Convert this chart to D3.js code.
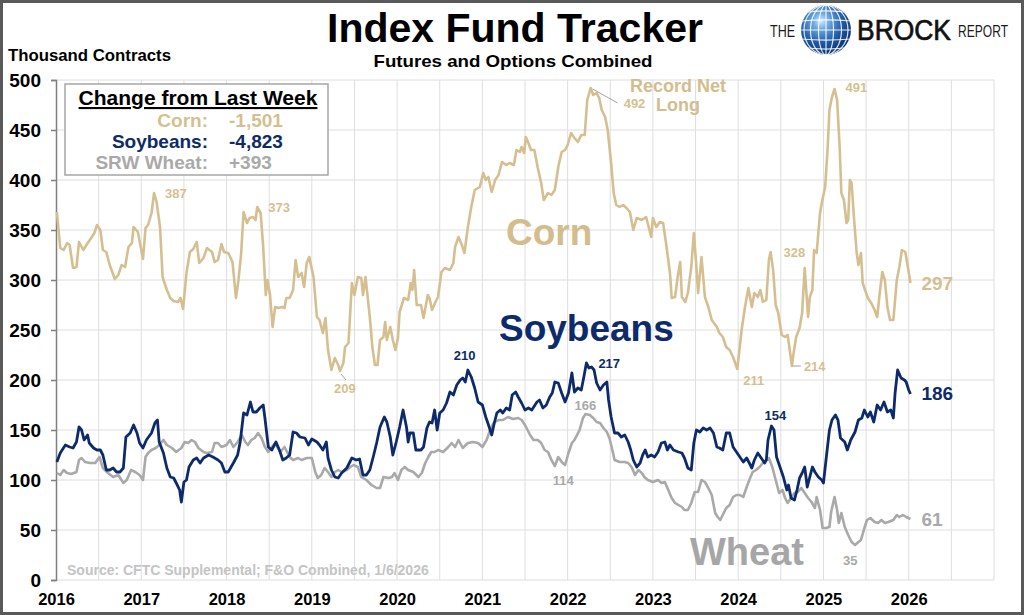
<!DOCTYPE html>
<html>
<head>
<meta charset="utf-8">
<script src="https://cdn.jsdelivr.net/npm/d3@7"></script>
<style>
html, body { margin: 0; padding: 0; background: #fff; }
svg { display: block; font-family: "Liberation Sans", Arial, Helvetica, sans-serif; }
</style>
</head>
<body>
<div id="chart"></div>
<script>
// index_fund_tracker - weekly net index fund positions (thousand contracts)

const yTicks = [0, 50, 100, 150, 200, 250, 300, 350, 400, 450, 500];
const xTickYears = [2016, 2017, 2018, 2019, 2020, 2021, 2022, 2023, 2024, 2025, 2026];

const legendNames = ["Corn:", "Soybeans:", "SRW Wheat:"];
const legendChanges = ["-1,501", "-4,823", "+393"];

const cornDates = [
  2016.01,2016.05,2016.09,2016.13,2016.16,2016.20,2016.24,2016.27,2016.32,2016.38,2016.42,2016.45,2016.48,2016.52,2016.55,2016.59,2016.63,2016.69,2016.73,2016.77,2016.81,2016.85,2016.89,2016.91,2016.96,
  2017.02,2017.05,2017.08,2017.12,2017.15,2017.18,2017.22,2017.25,2017.30,2017.34,2017.38,2017.43,2017.46,2017.49,2017.53,2017.57,2017.61,2017.65,2017.68,2017.73,2017.77,2017.83,2017.86,2017.90,2017.94,2017.97,
  2018.02,2018.07,2018.11,2018.14,2018.17,2018.20,2018.24,2018.27,2018.31,2018.34,2018.36,2018.40,2018.43,2018.46,2018.48,2018.51,2018.54,2018.57,2018.61,2018.65,2018.68,2018.70,2018.74,2018.78,2018.81,2018.84,2018.88,2018.91,2018.94,2018.97,
  2019.02,2019.06,2019.09,2019.13,2019.16,2019.19,2019.23,2019.27,2019.31,2019.33,2019.37,2019.39,2019.43,2019.47,2019.50,2019.54,2019.58,2019.60,2019.63,2019.68,2019.71,2019.74,2019.77,2019.80,2019.84,2019.86,2019.88,2019.92,2019.95,2019.98,
  2020.01,2020.03,2020.08,2020.13,2020.16,2020.18,2020.20,2020.23,2020.28,2020.31,2020.36,2020.38,2020.41,2020.45,2020.48,2020.52,2020.56,2020.62,2020.66,2020.68,2020.72,2020.76,2020.79,2020.83,2020.87,2020.91,2020.97,
  2021.01,2021.04,2021.07,2021.11,2021.15,2021.19,2021.23,2021.28,2021.32,2021.37,2021.40,2021.44,2021.46,2021.49,2021.51,2021.54,2021.57,2021.61,2021.65,2021.69,2021.72,2021.77,2021.81,2021.85,2021.89,2021.93,2021.97,
  2022.00,2022.04,2022.08,2022.12,2022.16,2022.20,2022.23,2022.27,2022.30,2022.34,2022.37,2022.40,2022.44,2022.47,2022.51,2022.54,2022.57,2022.61,2022.65,2022.69,2022.73,2022.77,2022.81,2022.87,2022.92,2022.98,
  2023.00,2023.04,2023.08,2023.12,2023.16,2023.20,2023.22,2023.26,2023.29,2023.32,2023.34,2023.38,2023.41,2023.45,2023.48,2023.51,2023.53,2023.57,2023.61,2023.65,2023.69,2023.75,2023.78,2023.82,2023.86,2023.90,2023.94,2023.99,
  2024.04,2024.08,2024.12,2024.16,2024.19,2024.23,2024.26,2024.29,2024.33,2024.36,2024.38,2024.41,2024.44,2024.47,2024.51,2024.55,2024.58,2024.60,2024.63,2024.65,2024.68,2024.72,2024.75,2024.78,2024.82,2024.84,2024.87,2024.89,2024.92,2024.96,2024.98,
  2025.02,2025.05,2025.07,2025.10,2025.13,2025.16,2025.19,2025.21,2025.24,2025.27,2025.29,2025.31,2025.33,2025.36,2025.39,2025.41,2025.44,2025.46,2025.50,2025.52,2025.56,2025.60,2025.63,2025.66,2025.69,2025.72,2025.75,2025.78,2025.82,2025.86,2025.89,2025.92,2025.96,2025.99,2026.02
];
const cornValues = [
  368,332,330,337,335,312,313,338,330,338,343,347,355,350,330,328,315,301,305,315,313,333,337,353,348,
  321,352,355,367,387,378,353,303,290,282,279,278,282,271,307,328,331,338,317,322,332,328,318,320,336,328,
  327,318,282,300,325,368,357,362,363,360,373,367,333,285,300,285,253,273,272,273,272,282,282,290,320,303,307,293,317,323,
  303,263,260,247,262,230,210,222,215,209,217,233,237,297,285,303,302,285,303,263,233,215,215,240,243,258,240,253,240,230,
  242,268,282,280,297,290,310,275,275,262,285,282,270,278,283,308,312,310,317,333,343,335,327,353,373,390,393,
  407,400,403,388,400,405,418,415,417,415,430,428,433,427,443,437,430,430,412,397,380,387,385,390,413,428,430,
  435,447,442,438,445,445,480,492,485,487,482,470,463,450,417,387,375,373,375,372,368,350,362,360,363,343,
  362,353,358,357,333,307,282,283,303,318,283,278,287,313,347,313,287,323,283,273,260,253,247,243,233,230,223,211,
  250,273,292,273,287,283,290,278,280,320,328,310,275,267,245,243,245,233,214,227,243,252,267,312,263,283,290,330,327,367,377,
  393,433,470,483,491,480,433,387,380,357,360,400,397,360,327,315,327,297,287,282,277,270,263,287,308,300,273,260,260,300,313,330,328,313,297
];

const soyDates = [
  2016.01,2016.05,2016.11,2016.16,2016.20,2016.24,2016.27,2016.30,2016.33,2016.37,2016.39,2016.44,2016.48,2016.52,2016.55,2016.59,2016.63,2016.67,2016.71,2016.75,2016.79,2016.82,2016.87,2016.91,2016.95,2016.98,
  2017.02,2017.06,2017.12,2017.16,2017.19,2017.21,2017.26,2017.30,2017.34,2017.38,2017.41,2017.45,2017.47,2017.50,2017.53,2017.56,2017.61,2017.65,2017.69,2017.73,2017.79,2017.84,2017.90,2017.94,2017.98,
  2018.02,2018.08,2018.13,2018.16,2018.20,2018.24,2018.28,2018.31,2018.35,2018.39,2018.43,2018.45,2018.49,2018.53,2018.58,2018.62,2018.66,2018.70,2018.74,2018.78,2018.82,2018.86,2018.92,2018.96,
  2019.00,2019.06,2019.09,2019.13,2019.17,2019.19,2019.23,2019.27,2019.31,2019.35,2019.41,2019.47,2019.52,2019.56,2019.60,2019.64,2019.68,2019.72,2019.76,2019.80,2019.85,2019.88,2019.92,2019.95,2019.99,
  2020.03,2020.07,2020.11,2020.13,2020.15,2020.19,2020.22,2020.28,2020.31,2020.35,2020.38,2020.41,2020.44,2020.47,2020.50,2020.54,2020.58,2020.62,2020.66,2020.70,2020.74,2020.77,2020.80,2020.83,2020.87,2020.91,2020.95,
  2021.00,2021.04,2021.08,2021.11,2021.14,2021.17,2021.21,2021.24,2021.28,2021.32,2021.35,2021.39,2021.42,2021.46,2021.50,2021.54,2021.58,2021.64,2021.67,2021.71,2021.75,2021.79,2021.82,2021.85,2021.89,2021.93,2021.97,
  2022.01,2022.03,2022.05,2022.08,2022.12,2022.16,2022.19,2022.22,2022.25,2022.28,2022.31,2022.34,2022.38,2022.42,2022.46,2022.48,2022.51,2022.55,2022.59,2022.63,2022.67,2022.71,2022.74,2022.77,2022.81,2022.85,2022.88,2022.91,2022.94,2022.98,
  2023.02,2023.06,2023.10,2023.14,2023.17,2023.20,2023.24,2023.30,2023.34,2023.37,2023.41,2023.45,2023.48,2023.51,2023.55,2023.59,2023.63,2023.67,2023.71,2023.75,2023.78,2023.82,2023.86,2023.90,2023.94,2023.98,
  2024.02,2024.06,2024.10,2024.16,2024.19,2024.23,2024.27,2024.31,2024.33,2024.35,2024.39,2024.42,2024.45,2024.49,2024.53,2024.57,2024.59,2024.62,2024.66,2024.69,2024.72,2024.75,2024.78,2024.81,2024.84,2024.87,2024.90,2024.94,2024.98,
  2025.00,2025.03,2025.07,2025.10,2025.14,2025.17,2025.20,2025.25,2025.28,2025.32,2025.37,2025.41,2025.45,2025.48,2025.52,2025.55,2025.59,2025.63,2025.67,2025.71,2025.75,2025.79,2025.82,2025.84,2025.87,2025.91,2025.95,2025.97,2026.00,2026.02
];
const soyValues = [
  118,127,135,133,132,138,153,150,140,145,137,132,130,130,125,110,110,112,108,108,112,143,147,155,147,137,
  132,140,147,157,160,138,127,112,103,102,97,90,78,98,100,113,120,122,117,122,125,123,120,117,108,
  108,117,125,138,167,165,178,168,168,172,175,162,133,130,138,130,120,122,125,148,147,143,142,135,
  141,138,135,130,138,122,110,103,102,107,112,122,120,121,105,105,110,123,137,153,163,158,143,125,138,
  153,170,153,138,147,147,130,130,133,152,158,157,170,150,167,170,177,188,185,195,200,202,198,210,203,192,178,
  175,163,153,145,157,167,170,167,172,170,185,188,183,177,170,172,170,178,180,172,175,183,187,198,197,187,178,
  187,197,207,188,192,190,203,217,212,213,210,197,190,195,198,180,163,147,147,143,145,138,130,120,113,117,125,130,123,125,
  123,128,137,138,130,135,130,128,127,122,112,110,137,150,148,152,150,152,147,133,132,130,147,147,133,128,
  123,118,122,112,120,127,122,117,120,140,154,150,123,113,103,90,95,82,80,90,102,107,113,93,103,113,108,103,100,
  97,120,150,160,165,160,142,138,130,140,148,160,162,170,163,168,158,175,170,178,168,170,162,187,210,202,200,198,190,186
];

const wheatDates = [
  2016.01,2016.05,2016.09,2016.13,2016.18,2016.24,2016.27,2016.30,2016.34,2016.40,2016.46,2016.51,2016.55,2016.61,2016.67,2016.73,2016.79,2016.83,2016.88,2016.93,2016.98,
  2017.02,2017.05,2017.08,2017.12,2017.17,2017.21,2017.26,2017.30,2017.36,2017.41,2017.47,2017.51,2017.55,2017.59,2017.63,2017.67,2017.73,2017.77,2017.83,2017.86,2017.90,2017.94,
  2018.00,2018.04,2018.08,2018.13,2018.18,2018.22,2018.25,2018.29,2018.33,2018.37,2018.41,2018.45,2018.49,2018.53,2018.57,2018.63,2018.68,2018.74,2018.78,2018.84,2018.88,2018.94,
  2019.00,2019.04,2019.07,2019.11,2019.15,2019.19,2019.23,2019.27,2019.31,2019.35,2019.41,2019.45,2019.49,2019.54,2019.58,2019.64,2019.70,2019.76,2019.80,2019.84,2019.90,2019.94,2019.97,
  2020.01,2020.05,2020.09,2020.13,2020.19,2020.25,2020.29,2020.33,2020.36,2020.40,2020.44,2020.48,2020.54,2020.60,2020.64,2020.68,2020.72,2020.77,2020.83,2020.89,2020.95,
  2021.00,2021.05,2021.09,2021.13,2021.19,2021.24,2021.30,2021.36,2021.42,2021.46,2021.50,2021.56,2021.60,2021.65,2021.69,2021.73,2021.77,2021.81,2021.85,2021.89,2021.93,2021.97,
  2022.01,2022.05,2022.08,2022.11,2022.14,2022.18,2022.21,2022.26,2022.30,2022.34,2022.38,2022.42,2022.46,2022.49,2022.53,2022.55,2022.61,2022.67,2022.71,2022.75,2022.79,2022.83,2022.87,2022.90,2022.94,
  2023.00,2023.06,2023.10,2023.14,2023.18,2023.22,2023.26,2023.30,2023.34,2023.37,2023.41,2023.45,2023.49,2023.53,2023.57,2023.61,2023.65,2023.69,2023.73,2023.76,2023.79,2023.83,2023.86,2023.90,2023.94,2023.98,
  2024.02,2024.06,2024.10,2024.14,2024.17,2024.21,2024.25,2024.29,2024.33,2024.36,2024.40,2024.44,2024.48,2024.52,2024.55,2024.58,2024.62,2024.66,2024.70,2024.74,2024.78,2024.82,2024.86,2024.90,2024.92,2024.96,2024.99,
  2025.03,2025.07,2025.09,2025.13,2025.16,2025.18,2025.21,2025.25,2025.29,2025.33,2025.37,2025.41,2025.44,2025.48,2025.51,2025.55,2025.60,2025.64,2025.68,2025.72,2025.76,2025.82,2025.86,2025.89,2025.93,2025.97,2026.02
];
const wheatValues = [
  107,105,110,107,106,108,120,122,118,117,117,123,112,107,103,105,97,100,110,108,105,
  100,123,127,130,132,135,140,135,132,128,132,138,137,140,138,132,128,127,128,137,137,133,
  135,140,133,138,145,138,135,140,142,147,142,133,128,133,137,128,133,123,120,122,120,122,
  122,108,102,105,112,108,103,108,110,108,110,113,115,113,103,100,95,92,92,103,102,103,107,
  100,110,113,110,108,103,107,117,122,128,128,130,128,133,137,133,140,132,137,138,137,
  133,140,150,157,160,160,163,161,162,160,155,145,140,140,137,130,128,120,114,123,118,115,
  127,137,140,145,150,162,166,165,162,158,157,152,148,142,128,120,118,118,117,113,105,110,107,103,100,
  98,100,97,98,90,82,77,75,73,70,70,77,88,88,100,98,92,85,67,63,60,67,72,75,83,85,
  85,83,93,102,108,110,113,117,120,122,113,100,87,90,82,77,82,87,88,92,87,82,78,72,83,70,52,
  52,53,68,83,70,57,67,53,45,38,35,38,40,52,60,62,58,57,60,57,58,60,65,63,65,63,61
];

// points that carry a value label: [date, value]
const cornPeaks = [[2017.15, 387], [2018.36, 373], [2019.33, 209], [2022.27, 492], [2023.99, 211], [2024.38, 328], [2024.63, 214], [2025.13, 491]];
const soyPeaks = [[2020.83, 210], [2022.22, 217], [2024.39, 154]];
const wheatPeaks = [[2022.21, 166], [2021.85, 114], [2025.37, 35]];

function drawTracker() {
    const width = 1024, height = 615;
    const cornColor = "#D5BF90", soyColor = "#0D2B6B", wheatColor = "#A9A9A9";

    const svg = d3.select("#chart").append("svg")
        .attr("width", width).attr("height", height)
        .attr("viewBox", `0 0 ${width} ${height}`);

    svg.append("rect").attr("x", 1.5).attr("y", 1.5).attr("width", width - 3).attr("height", height - 3)
        .attr("fill", "#fff").attr("stroke", "#595959").attr("stroke-width", 3);

    const x = d3.scaleLinear().domain([2016, 2027]).range([56, 994]);
    const y = d3.scaleLinear().domain([0, 500]).range([580, 80]);

    // grid
    const grid = svg.append("g").attr("stroke", "#DEDEDE").attr("stroke-width", 1);
    grid.selectAll(".vg").data(d3.range(2016.5, 2027.01, 0.5)).join("line").attr("class", "vg")
        .attr("x1", d => x(d)).attr("x2", d => x(d)).attr("y1", y(0)).attr("y2", y(500));
    grid.selectAll(".hg").data(yTicks).join("line").attr("class", "hg")
        .attr("x1", x(2016)).attr("x2", x(2027)).attr("y1", d => y(d)).attr("y2", d => y(d));

    // axes
    svg.append("g").attr("transform", `translate(${x(2016)},0)`)
        .call(d3.axisLeft(y).tickValues(yTicks).tickSize(5).tickPadding(10))
        .call(g => g.select(".domain").attr("stroke", "#7F7F7F").attr("stroke-width", 1.5))
        .call(g => g.selectAll(".tick line").attr("stroke", "#7F7F7F").attr("stroke-width", 1.5))
        .call(g => g.selectAll("text").attr("fill", "#000").style("font-size", "19px").style("font-weight", "bold")
            .style("font-family", "'Liberation Sans', Arial, sans-serif"));

    svg.append("g").attr("transform", `translate(0,${y(0)})`)
        .call(d3.axisBottom(x).tickValues(xTickYears).tickSize(0).tickPadding(13).tickFormat(d3.format("d")))
        .call(g => g.select(".domain").remove())
        .call(g => g.selectAll("text").attr("fill", "#000").style("font-size", "16.5px").style("font-weight", "bold")
            .style("font-family", "'Liberation Sans', Arial, sans-serif"));

    // series
    const line = d3.line().x(d => x(d[0])).y(d => y(d[1])).curve(d3.curveLinear);
    const series = [
        { dates: wheatDates, values: wheatValues, color: wheatColor, w: 2.6 },
        { dates: cornDates, values: cornValues, color: cornColor, w: 2.6 },
        { dates: soyDates, values: soyValues, color: soyColor, w: 2.8 }
    ];
    series.forEach(s => {
        svg.append("path").datum(d3.zip(s.dates, s.values))
            .attr("d", line).attr("fill", "none").attr("stroke", s.color)
            .attr("stroke-width", s.w).attr("stroke-linejoin", "round");
    });

    // value labels, offsets in px from the labelled point
    const cornOffsets = [[11, 5], [11, 5], [-6, 22], [33, 20], [6, 16], [13, 5], [12, 5], [11, 3]];
    const soyOffsets = [[-14, -10], [12, 5], [-7, -6]];
    const wheatOffsets = [[-11, -4], [-2, 19], [-12, 20]];
    const labelGroup = svg.append("g").style("font-size", "13px").style("font-weight", "bold");
    [[cornPeaks, cornOffsets, cornColor], [soyPeaks, soyOffsets, soyColor], [wheatPeaks, wheatOffsets, wheatColor]]
        .forEach(([pts, offs, color]) => {
            labelGroup.selectAll(null).data(pts).join("text")
                .attr("x", (d, i) => x(d[0]) + offs[i][0])
                .attr("y", (d, i) => y(d[1]) + offs[i][1])
                .attr("fill", color).text(d => d[1]);
        });

    // leader lines
    const p492 = cornPeaks[3], p209 = cornPeaks[2], p214 = cornPeaks[6];
    svg.append("line").attr("x1", x(p492[0]) + 2).attr("y1", y(p492[1]) + 1)
        .attr("x2", x(p492[0]) + 27).attr("y2", y(p492[1]) + 15).attr("stroke", "#8C8C8C").attr("stroke-width", 0.8);
    svg.append("line").attr("x1", x(p209[0]) + 1).attr("y1", y(p209[1]) + 3)
        .attr("x2", x(p209[0]) + 6).attr("y2", y(p209[1]) + 9).attr("stroke", "#8C8C8C").attr("stroke-width", 0.8);
    svg.append("line").attr("x1", x(p214[0]) + 1).attr("y1", y(p214[1]))
        .attr("x2", x(p214[0]) + 9).attr("y2", y(p214[1])).attr("stroke", "#8C8C8C").attr("stroke-width", 0.8);

    // end values
    const endGroup = svg.append("g").style("font-size", "19px").style("font-weight", "bold");
    [[cornDates, cornValues, cornColor, 7], [soyDates, soyValues, soyColor, 6], [wheatDates, wheatValues, wheatColor, 7]]
        .forEach(([dates, vals, color, dy]) => {
            const n = vals.length - 1;
            endGroup.append("text").attr("x", x(dates[n]) + 11).attr("y", y(vals[n]) + dy)
                .attr("fill", color).text(vals[n]);
        });

    // series names
    const nameGroup = svg.append("g").style("font-weight", "bold");
    nameGroup.append("text").attr("x", 506).attr("y", 245).attr("fill", "#D3BD8C").style("font-size", "37px").text("Corn");
    nameGroup.append("text").attr("x", 499).attr("y", 341).attr("fill", soyColor).style("font-size", "37px").text("Soybeans");
    nameGroup.append("text").attr("x", 690).attr("y", 565).attr("fill", "#A6A6A6").style("font-size", "38px").text("Wheat");
    nameGroup.append("text").attr("x", 678).attr("y", 92).attr("text-anchor", "middle").attr("fill", "#D3BD8C")
        .style("font-size", "18px").text("Record Net");
    nameGroup.append("text").attr("x", 678).attr("y", 111).attr("text-anchor", "middle").attr("fill", "#D3BD8C")
        .style("font-size", "18px").text("Long");

    // legend box
    const legend = svg.append("g");
    legend.append("rect").attr("x", 65).attr("y", 84).attr("width", 263).attr("height", 91)
        .attr("fill", "#fff").attr("stroke", "#A6A6A6").attr("stroke-width", 1.5);
    legend.append("text").attr("x", 198).attr("y", 105).attr("text-anchor", "middle")
        .style("font-size", "21px").style("font-weight", "bold").style("text-decoration", "underline")
        .attr("fill", "#000").text("Change from Last Week");
    const legendColors = [cornColor, soyColor, wheatColor];
    legend.selectAll(".ln").data(legendNames).join("text").attr("class", "ln")
        .attr("x", 208).attr("y", (d, i) => 127 + i * 21).attr("text-anchor", "end")
        .attr("fill", (d, i) => legendColors[i]).style("font-size", "19px").style("font-weight", "bold").text(d => d);
    legend.selectAll(".lv").data(legendChanges).join("text").attr("class", "lv")
        .attr("x", 229).attr("y", (d, i) => 127 + i * 21)
        .attr("fill", (d, i) => legendColors[i]).style("font-size", "19px").style("font-weight", "bold").text(d => d);

    // titles
    svg.append("text").attr("x", 515).attr("y", 42).attr("text-anchor", "middle")
        .style("font-size", "41px").style("font-weight", "bold").attr("fill", "#000").text("Index Fund Tracker");
    svg.append("text").attr("x", 513).attr("y", 67).attr("text-anchor", "middle")
        .attr("textLength", 279).attr("lengthAdjust", "spacingAndGlyphs")
        .style("font-size", "17px").style("font-weight", "bold").attr("fill", "#000").text("Futures and Options Combined");
    svg.append("text").attr("x", 8).attr("y", 61)
        .attr("textLength", 163).attr("lengthAdjust", "spacingAndGlyphs")
        .style("font-size", "16px").style("font-weight", "bold").attr("fill", "#000").text("Thousand Contracts");

    svg.append("text").attr("x", 67).attr("y", 575).style("font-size", "14px").style("font-weight", "bold")
        .attr("fill", "#C4C4C4").text("Source: CFTC Supplemental; F&O Combined, 1/6/2026");

    // logo
    const defs = svg.append("defs");
    const grad = defs.append("radialGradient").attr("id", "globeGrad")
        .attr("cx", "40%").attr("cy", "32%").attr("r", "72%");
    grad.append("stop").attr("offset", "0%").attr("stop-color", "#D6ECFF");
    grad.append("stop").attr("offset", "22%").attr("stop-color", "#6FAAE2");
    grad.append("stop").attr("offset", "60%").attr("stop-color", "#1F5AA8");
    grad.append("stop").attr("offset", "100%").attr("stop-color", "#0A2C66");
    const gx = 826, gy = 30, gr = 25;
    defs.append("clipPath").attr("id", "globeClip").append("circle").attr("cx", gx).attr("cy", gy).attr("r", gr);

    const logo = svg.append("g");
    logo.append("text").attr("x", 770).attr("y", 37).attr("textLength", 25).attr("lengthAdjust", "spacingAndGlyphs")
        .style("font-size", "17px").attr("fill", "#1A1A1A").text("THE");
    logo.append("circle").attr("cx", gx).attr("cy", gy).attr("r", gr).attr("fill", "url(#globeGrad)");
    const globeLines = logo.append("g").attr("clip-path", "url(#globeClip)")
        .attr("fill", "none").attr("stroke", "#fff").attr("stroke-opacity", 0.85).attr("stroke-width", 1.2);
    [0.3, 0.62, 0.88].forEach(k => {
        globeLines.append("ellipse").attr("cx", gx).attr("cy", gy).attr("rx", gr * k).attr("ry", gr);
    });
    globeLines.append("line").attr("x1", gx).attr("x2", gx).attr("y1", gy - gr).attr("y2", gy + gr);
    [-17, -9, 0, 9, 17].forEach(dy => {
        globeLines.append("path")
            .attr("d", `M${gx - gr},${gy + dy} Q${gx},${gy + dy + dy * 0.25} ${gx + gr},${gy + dy}`);
    });
    logo.append("text").attr("x", 857).attr("y", 40).attr("textLength", 94).attr("lengthAdjust", "spacingAndGlyphs")
        .style("font-size", "29px").attr("fill", "#111").attr("stroke", "#111").attr("stroke-width", 0.7).text("BROCK");
    logo.append("text").attr("x", 958).attr("y", 37).attr("textLength", 50).attr("lengthAdjust", "spacingAndGlyphs")
        .style("font-size", "16px").attr("fill", "#1A1A1A").text("REPORT");
}

drawTracker();
</script>
</body>
</html>
